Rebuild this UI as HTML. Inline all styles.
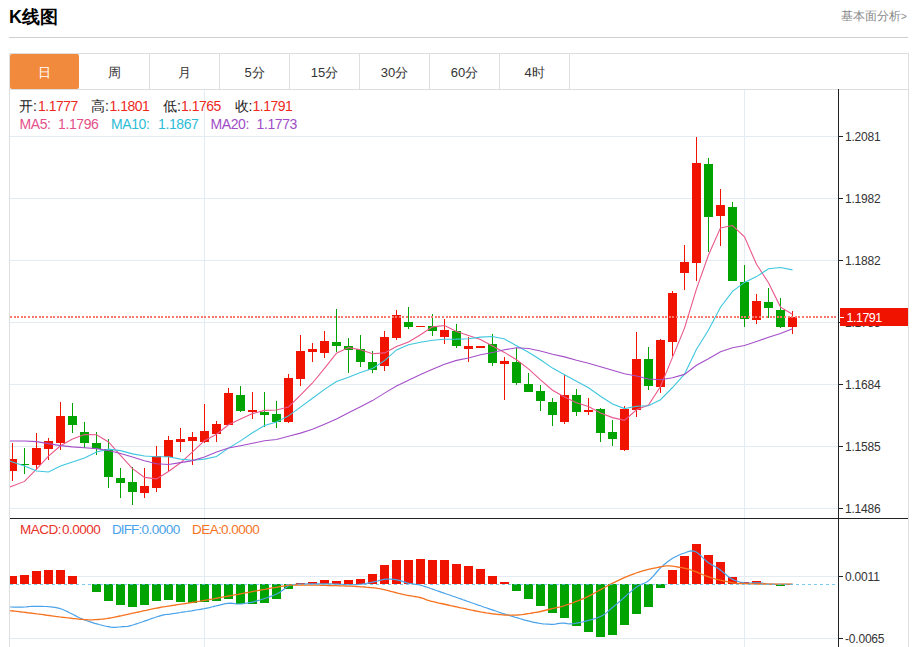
<!DOCTYPE html>
<html><head><meta charset="utf-8">
<style>
html,body{margin:0;padding:0;background:#fff;}
body{width:915px;height:647px;overflow:hidden;position:relative;font-family:"Liberation Sans",sans-serif;}
.a{position:absolute;white-space:nowrap;}
.tab{position:absolute;top:54px;height:35px;width:69px;line-height:37px;text-align:center;font-size:13px;color:#333;}
.lg{font-size:14px;}
.v{color:#ee2a1e;letter-spacing:-0.5px;}
.w{letter-spacing:-0.4px;}
.lg2{font-size:13.5px;letter-spacing:-0.5px;}
.ax{font-size:12px;letter-spacing:-0.2px;fill:#333;font-family:"Liberation Sans",sans-serif;}
</style></head><body>
<div class="a" style="left:9px;top:5px;font-size:18px;font-weight:bold;color:#000;">K线图</div>
<div class="a" style="left:841px;top:8px;font-size:12px;color:#8a8a8a;">基本面分析<span style="font-size:10px;">&gt;</span></div>
<svg class="a" style="left:0;top:0" width="915" height="647" shape-rendering="crispEdges">
<rect x="9" y="37" width="899" height="1" fill="#cfcfcf"/>
<!-- tab box -->
<rect x="10" y="53" width="898" height="1" fill="#dedede"/>
<rect x="10" y="89" width="898" height="1" fill="#dedede"/>
<rect x="908" y="53" width="1" height="594" fill="#dedede"/>
<rect x="9" y="53" width="1" height="594" fill="#dedede"/>
<rect x="149" y="54" width="1" height="35" fill="#dedede"/>
<rect x="219" y="54" width="1" height="35" fill="#dedede"/>
<rect x="289" y="54" width="1" height="35" fill="#dedede"/>
<rect x="359" y="54" width="1" height="35" fill="#dedede"/>
<rect x="429" y="54" width="1" height="35" fill="#dedede"/>
<rect x="499" y="54" width="1" height="35" fill="#dedede"/>
<rect x="569" y="54" width="1" height="35" fill="#dedede"/>
<rect x="10" y="54" width="69" height="35" rx="2" fill="#f28a3e" shape-rendering="auto"/>
<!-- grid -->
<g fill="#e3ebf3">
<rect x="204" y="90" width="1" height="557"/>
<rect x="744" y="90" width="1" height="557"/>
<rect x="10" y="136" width="828" height="1"/>
<rect x="10" y="198" width="828" height="1"/>
<rect x="10" y="260" width="828" height="1"/>
<rect x="10" y="322" width="828" height="1"/>
<rect x="10" y="384" width="828" height="1"/>
<rect x="10" y="446" width="828" height="1"/>
<rect x="10" y="508" width="828" height="1"/>
<rect x="10" y="576" width="828" height="1"/>
<rect x="10" y="638" width="828" height="1"/>
</g>
<!-- axis -->
<rect x="838" y="89" width="1" height="558" fill="#222"/>
<rect x="10" y="518" width="898" height="1" fill="#222"/>
<g fill="#222">
<rect x="838" y="136" width="5" height="1"/>
<rect x="838" y="198" width="5" height="1"/>
<rect x="838" y="260" width="5" height="1"/>
<rect x="838" y="322" width="5" height="1"/>
<rect x="838" y="384" width="5" height="1"/>
<rect x="838" y="446" width="5" height="1"/>
<rect x="838" y="508" width="5" height="1"/>
<rect x="838" y="576" width="5" height="1"/>
<rect x="838" y="638" width="5" height="1"/>
</g>
<g class="ax" shape-rendering="auto">
<text x="845" y="141">1.2081</text>
<text x="845" y="203">1.1982</text>
<text x="845" y="265">1.1882</text>
<text x="845" y="327">1.1783</text>
<text x="845" y="389">1.1684</text>
<text x="845" y="451">1.1585</text>
<text x="845" y="513">1.1486</text>
<text x="845" y="581">0.0011</text>
<text x="845" y="643">-0.0065</text>
</g>
<svg x="10" y="90" width="828" height="428" viewBox="10 90 828 428">
<rect x="12" y="443" width="1" height="38" fill="#f01400"/>
<rect x="8" y="459" width="9" height="12" fill="#f01400"/>
<rect x="24" y="448" width="1" height="26" fill="#00a300"/>
<rect x="20" y="464" width="9" height="1" fill="#00a300"/>
<rect x="36" y="433" width="1" height="37" fill="#f01400"/>
<rect x="32" y="448" width="9" height="17" fill="#f01400"/>
<rect x="48" y="438" width="1" height="22" fill="#f01400"/>
<rect x="44" y="441" width="9" height="8" fill="#f01400"/>
<rect x="60" y="402" width="1" height="48" fill="#f01400"/>
<rect x="56" y="416" width="9" height="27" fill="#f01400"/>
<rect x="72" y="403" width="1" height="30" fill="#00a300"/>
<rect x="68" y="416" width="9" height="9" fill="#00a300"/>
<rect x="84" y="422" width="1" height="26" fill="#00a300"/>
<rect x="80" y="432" width="9" height="11" fill="#00a300"/>
<rect x="96" y="432" width="1" height="23" fill="#00a300"/>
<rect x="92" y="443" width="9" height="6" fill="#00a300"/>
<rect x="108" y="439" width="1" height="49" fill="#00a300"/>
<rect x="104" y="449" width="9" height="28" fill="#00a300"/>
<rect x="120" y="468" width="1" height="30" fill="#00a300"/>
<rect x="116" y="478" width="9" height="5" fill="#00a300"/>
<rect x="132" y="467" width="1" height="38" fill="#00a300"/>
<rect x="128" y="482" width="9" height="10" fill="#00a300"/>
<rect x="144" y="468" width="1" height="30" fill="#f01400"/>
<rect x="140" y="486" width="9" height="7" fill="#f01400"/>
<rect x="156" y="446" width="1" height="46" fill="#f01400"/>
<rect x="152" y="456" width="9" height="32" fill="#f01400"/>
<rect x="168" y="436" width="1" height="35" fill="#f01400"/>
<rect x="164" y="440" width="9" height="17" fill="#f01400"/>
<rect x="180" y="428" width="1" height="24" fill="#f01400"/>
<rect x="176" y="439" width="9" height="3" fill="#f01400"/>
<rect x="192" y="432" width="1" height="33" fill="#f01400"/>
<rect x="188" y="437" width="9" height="4" fill="#f01400"/>
<rect x="204" y="404" width="1" height="39" fill="#f01400"/>
<rect x="200" y="431" width="9" height="11" fill="#f01400"/>
<rect x="216" y="421" width="1" height="21" fill="#f01400"/>
<rect x="212" y="424" width="9" height="10" fill="#f01400"/>
<rect x="228" y="388" width="1" height="37" fill="#f01400"/>
<rect x="224" y="393" width="9" height="32" fill="#f01400"/>
<rect x="240" y="386" width="1" height="26" fill="#00a300"/>
<rect x="236" y="395" width="9" height="16" fill="#00a300"/>
<rect x="252" y="392" width="1" height="27" fill="#f01400"/>
<rect x="248" y="410" width="9" height="2" fill="#f01400"/>
<rect x="264" y="392" width="1" height="35" fill="#00a300"/>
<rect x="260" y="412" width="9" height="3" fill="#00a300"/>
<rect x="276" y="401" width="1" height="27" fill="#00a300"/>
<rect x="272" y="414" width="9" height="8" fill="#00a300"/>
<rect x="288" y="374" width="1" height="49" fill="#f01400"/>
<rect x="284" y="378" width="9" height="44" fill="#f01400"/>
<rect x="300" y="335" width="1" height="51" fill="#f01400"/>
<rect x="296" y="351" width="9" height="28" fill="#f01400"/>
<rect x="312" y="343" width="1" height="19" fill="#f01400"/>
<rect x="308" y="349" width="9" height="3" fill="#f01400"/>
<rect x="324" y="331" width="1" height="27" fill="#f01400"/>
<rect x="320" y="341" width="9" height="12" fill="#f01400"/>
<rect x="336" y="309" width="1" height="43" fill="#00a300"/>
<rect x="332" y="342" width="9" height="4" fill="#00a300"/>
<rect x="348" y="338" width="1" height="35" fill="#00a300"/>
<rect x="344" y="346" width="9" height="4" fill="#00a300"/>
<rect x="360" y="335" width="1" height="32" fill="#00a300"/>
<rect x="356" y="349" width="9" height="13" fill="#00a300"/>
<rect x="372" y="351" width="1" height="22" fill="#00a300"/>
<rect x="368" y="362" width="9" height="8" fill="#00a300"/>
<rect x="384" y="331" width="1" height="40" fill="#f01400"/>
<rect x="380" y="337" width="9" height="29" fill="#f01400"/>
<rect x="396" y="310" width="1" height="30" fill="#f01400"/>
<rect x="392" y="315" width="9" height="23" fill="#f01400"/>
<rect x="408" y="307" width="1" height="22" fill="#00a300"/>
<rect x="404" y="322" width="9" height="5" fill="#00a300"/>
<rect x="420" y="326" width="1" height="1" fill="#f01400"/>
<rect x="416" y="326" width="9" height="1" fill="#f01400"/>
<rect x="432" y="314" width="1" height="22" fill="#00a300"/>
<rect x="428" y="326" width="9" height="5" fill="#00a300"/>
<rect x="444" y="319" width="1" height="25" fill="#f01400"/>
<rect x="440" y="330" width="9" height="7" fill="#f01400"/>
<rect x="456" y="324" width="1" height="24" fill="#00a300"/>
<rect x="452" y="331" width="9" height="15" fill="#00a300"/>
<rect x="468" y="337" width="1" height="25" fill="#f01400"/>
<rect x="464" y="346" width="9" height="3" fill="#f01400"/>
<rect x="480" y="346" width="1" height="2" fill="#f01400"/>
<rect x="476" y="346" width="9" height="2" fill="#f01400"/>
<rect x="492" y="334" width="1" height="32" fill="#00a300"/>
<rect x="488" y="344" width="9" height="19" fill="#00a300"/>
<rect x="504" y="357" width="1" height="43" fill="#f01400"/>
<rect x="500" y="361" width="9" height="3" fill="#f01400"/>
<rect x="516" y="348" width="1" height="37" fill="#00a300"/>
<rect x="512" y="362" width="9" height="21" fill="#00a300"/>
<rect x="528" y="373" width="1" height="19" fill="#00a300"/>
<rect x="524" y="384" width="9" height="8" fill="#00a300"/>
<rect x="540" y="385" width="1" height="26" fill="#00a300"/>
<rect x="536" y="391" width="9" height="10" fill="#00a300"/>
<rect x="552" y="398" width="1" height="28" fill="#00a300"/>
<rect x="548" y="402" width="9" height="13" fill="#00a300"/>
<rect x="564" y="375" width="1" height="49" fill="#f01400"/>
<rect x="560" y="395" width="9" height="27" fill="#f01400"/>
<rect x="576" y="389" width="1" height="27" fill="#00a300"/>
<rect x="572" y="395" width="9" height="17" fill="#00a300"/>
<rect x="588" y="398" width="1" height="17" fill="#f01400"/>
<rect x="584" y="410" width="9" height="2" fill="#f01400"/>
<rect x="600" y="408" width="1" height="34" fill="#00a300"/>
<rect x="596" y="409" width="9" height="24" fill="#00a300"/>
<rect x="612" y="420" width="1" height="26" fill="#00a300"/>
<rect x="608" y="432" width="9" height="7" fill="#00a300"/>
<rect x="624" y="406" width="1" height="45" fill="#f01400"/>
<rect x="620" y="409" width="9" height="41" fill="#f01400"/>
<rect x="636" y="332" width="1" height="85" fill="#f01400"/>
<rect x="632" y="359" width="9" height="51" fill="#f01400"/>
<rect x="648" y="347" width="1" height="43" fill="#00a300"/>
<rect x="644" y="359" width="9" height="27" fill="#00a300"/>
<rect x="660" y="339" width="1" height="54" fill="#f01400"/>
<rect x="656" y="340" width="9" height="47" fill="#f01400"/>
<rect x="672" y="291" width="1" height="65" fill="#f01400"/>
<rect x="668" y="293" width="9" height="49" fill="#f01400"/>
<rect x="684" y="245" width="1" height="45" fill="#f01400"/>
<rect x="680" y="262" width="9" height="11" fill="#f01400"/>
<rect x="696" y="137" width="1" height="144" fill="#f01400"/>
<rect x="692" y="163" width="9" height="100" fill="#f01400"/>
<rect x="708" y="158" width="1" height="94" fill="#00a300"/>
<rect x="704" y="164" width="9" height="53" fill="#00a300"/>
<rect x="720" y="189" width="1" height="57" fill="#f01400"/>
<rect x="716" y="205" width="9" height="11" fill="#f01400"/>
<rect x="732" y="202" width="1" height="79" fill="#00a300"/>
<rect x="728" y="207" width="9" height="74" fill="#00a300"/>
<rect x="744" y="265" width="1" height="62" fill="#00a300"/>
<rect x="740" y="282" width="9" height="37" fill="#00a300"/>
<rect x="756" y="294" width="1" height="30" fill="#f01400"/>
<rect x="752" y="301" width="9" height="19" fill="#f01400"/>
<rect x="768" y="288" width="1" height="30" fill="#00a300"/>
<rect x="764" y="302" width="9" height="6" fill="#00a300"/>
<rect x="780" y="298" width="1" height="30" fill="#00a300"/>
<rect x="776" y="310" width="9" height="17" fill="#00a300"/>
<rect x="792" y="311" width="1" height="23" fill="#f01400"/>
<rect x="788" y="317" width="9" height="10" fill="#f01400"/>
<g shape-rendering="auto">
<polyline points="0.5,490.6 12.5,486.0 24.5,481.4 36.5,469.2 48.5,456.1 60.5,445.8 72.5,439.0 84.5,434.6 96.5,434.8 108.5,442.0 120.5,455.4 132.5,468.7 144.5,477.4 156.5,478.9 168.5,471.5 180.5,462.8 192.5,451.8 204.5,440.7 216.5,434.2 228.5,424.8 240.5,419.0 252.5,413.6 264.5,410.4 276.5,410.0 288.5,407.0 300.5,395.2 312.5,383.0 324.5,368.3 336.5,353.2 348.5,347.6 360.5,349.7 372.5,353.8 384.5,352.9 396.5,346.6 408.5,341.9 420.5,334.7 432.5,326.9 444.5,325.5 456.5,331.6 468.5,335.5 480.5,339.6 492.5,346.1 504.5,352.4 516.5,359.8 528.5,368.8 540.5,379.8 552.5,390.2 564.5,397.0 576.5,402.8 588.5,406.5 600.5,412.9 612.5,417.6 624.5,420.3 636.5,409.8 648.5,405.0 660.5,386.5 672.5,357.4 684.5,328.1 696.5,288.8 708.5,255.0 720.5,227.9 732.5,225.5 744.5,236.8 756.5,264.3 768.5,282.7 780.5,307.1 792.5,314.3" fill="none" stroke="#e9578c" stroke-width="1.1"/>
<polyline points="0.5,458.0 12.5,462.0 24.5,466.0 36.5,471.0 48.5,472.0 60.5,466.0 72.5,462.0 84.5,458.0 96.5,452.0 108.5,449.1 120.5,450.6 132.5,453.9 144.5,456.0 156.5,456.8 168.5,456.7 180.5,459.1 192.5,460.2 204.5,459.1 216.5,456.5 228.5,448.1 240.5,440.9 252.5,432.7 264.5,425.5 276.5,422.1 288.5,415.9 300.5,407.1 312.5,398.3 324.5,389.4 336.5,381.6 348.5,377.3 360.5,372.5 372.5,368.4 384.5,360.6 396.5,349.9 408.5,344.8 420.5,342.2 432.5,340.3 444.5,339.2 456.5,339.1 468.5,338.7 480.5,337.1 492.5,336.5 504.5,338.9 516.5,345.7 528.5,352.2 540.5,359.7 552.5,368.1 564.5,374.7 576.5,381.3 588.5,387.7 600.5,396.3 612.5,403.9 624.5,408.6 636.5,406.3 648.5,405.8 660.5,399.7 672.5,387.5 684.5,374.2 696.5,349.3 708.5,330.0 720.5,307.2 732.5,291.4 744.5,282.4 756.5,276.6 768.5,268.8 780.5,267.5 792.5,269.9" fill="none" stroke="#3ec6df" stroke-width="1.1"/>
<polyline points="0.5,441.0 12.5,441.0 24.5,441.0 36.5,441.6 48.5,443.6 60.5,445.6 72.5,446.9 84.5,447.8 96.5,448.6 108.5,450.5 120.5,453.5 132.5,457.0 144.5,460.8 156.5,463.8 168.5,464.5 180.5,462.6 192.5,460.6 204.5,457.0 216.5,452.0 228.5,448.0 240.5,445.7 252.5,443.3 264.5,440.8 276.5,439.5 288.5,436.3 300.5,433.1 312.5,429.3 324.5,424.2 336.5,419.1 348.5,412.7 360.5,406.7 372.5,400.6 384.5,393.1 396.5,386.0 408.5,380.3 420.5,374.6 432.5,369.3 444.5,364.3 456.5,360.4 468.5,358.0 480.5,354.8 492.5,352.5 504.5,349.8 516.5,347.8 528.5,348.5 540.5,351.0 552.5,354.2 564.5,356.9 576.5,360.2 588.5,363.2 600.5,366.7 612.5,370.2 624.5,373.8 636.5,376.0 648.5,379.0 660.5,379.7 672.5,377.8 684.5,374.4 696.5,365.3 708.5,358.8 720.5,351.8 732.5,347.7 744.5,345.5 756.5,341.5 768.5,337.3 780.5,333.6 792.5,328.7" fill="none" stroke="#a44fc9" stroke-width="1.1"/>
</g>
</svg>
<line x1="10" y1="317" x2="837" y2="317" stroke="#f9776b" stroke-width="2" stroke-dasharray="2,1.6"/>
<rect x="840" y="308" width="68" height="18" fill="#f01400"/>
<rect x="840" y="317" width="4" height="1" fill="#fff"/>
<text x="846.5" y="321.5" class="ax" style="fill:#fff;font-size:12.5px;letter-spacing:-0.5px" shape-rendering="auto">1.1791</text>
<svg x="10" y="519" width="828" height="128" viewBox="10 519 828 128">
<rect x="8" y="576" width="9" height="8" fill="#f01400"/>
<rect x="20" y="575" width="9" height="9" fill="#f01400"/>
<rect x="32" y="571" width="9" height="13" fill="#f01400"/>
<rect x="44" y="570" width="9" height="14" fill="#f01400"/>
<rect x="56" y="570" width="9" height="14" fill="#f01400"/>
<rect x="68" y="576" width="9" height="8" fill="#f01400"/>
<rect x="92" y="584" width="9" height="8" fill="#00a300"/>
<rect x="104" y="584" width="9" height="17" fill="#00a300"/>
<rect x="116" y="584" width="9" height="21" fill="#00a300"/>
<rect x="128" y="584" width="9" height="23" fill="#00a300"/>
<rect x="140" y="584" width="9" height="21" fill="#00a300"/>
<rect x="152" y="584" width="9" height="17" fill="#00a300"/>
<rect x="164" y="584" width="9" height="16" fill="#00a300"/>
<rect x="176" y="584" width="9" height="18" fill="#00a300"/>
<rect x="188" y="584" width="9" height="19" fill="#00a300"/>
<rect x="200" y="584" width="9" height="18" fill="#00a300"/>
<rect x="212" y="584" width="9" height="17" fill="#00a300"/>
<rect x="224" y="584" width="9" height="15" fill="#00a300"/>
<rect x="236" y="584" width="9" height="20" fill="#00a300"/>
<rect x="248" y="584" width="9" height="20" fill="#00a300"/>
<rect x="260" y="584" width="9" height="19" fill="#00a300"/>
<rect x="272" y="584" width="9" height="15" fill="#00a300"/>
<rect x="284" y="584" width="9" height="5" fill="#00a300"/>
<rect x="296" y="583" width="9" height="1" fill="#f01400"/>
<rect x="308" y="582" width="9" height="2" fill="#f01400"/>
<rect x="320" y="580" width="9" height="4" fill="#f01400"/>
<rect x="332" y="581" width="9" height="3" fill="#f01400"/>
<rect x="344" y="580" width="9" height="4" fill="#f01400"/>
<rect x="356" y="579" width="9" height="5" fill="#f01400"/>
<rect x="368" y="574" width="9" height="10" fill="#f01400"/>
<rect x="380" y="565" width="9" height="19" fill="#f01400"/>
<rect x="392" y="560" width="9" height="24" fill="#f01400"/>
<rect x="404" y="560" width="9" height="24" fill="#f01400"/>
<rect x="416" y="559" width="9" height="25" fill="#f01400"/>
<rect x="428" y="560" width="9" height="24" fill="#f01400"/>
<rect x="440" y="560" width="9" height="24" fill="#f01400"/>
<rect x="452" y="564" width="9" height="20" fill="#f01400"/>
<rect x="464" y="566" width="9" height="18" fill="#f01400"/>
<rect x="476" y="569" width="9" height="15" fill="#f01400"/>
<rect x="488" y="576" width="9" height="8" fill="#f01400"/>
<rect x="500" y="582" width="9" height="2" fill="#f01400"/>
<rect x="512" y="584" width="9" height="7" fill="#00a300"/>
<rect x="524" y="584" width="9" height="15" fill="#00a300"/>
<rect x="536" y="584" width="9" height="22" fill="#00a300"/>
<rect x="548" y="584" width="9" height="29" fill="#00a300"/>
<rect x="560" y="584" width="9" height="34" fill="#00a300"/>
<rect x="572" y="584" width="9" height="42" fill="#00a300"/>
<rect x="584" y="584" width="9" height="48" fill="#00a300"/>
<rect x="596" y="584" width="9" height="53" fill="#00a300"/>
<rect x="608" y="584" width="9" height="51" fill="#00a300"/>
<rect x="620" y="584" width="9" height="41" fill="#00a300"/>
<rect x="632" y="584" width="9" height="30" fill="#00a300"/>
<rect x="644" y="584" width="9" height="23" fill="#00a300"/>
<rect x="656" y="584" width="9" height="4" fill="#00a300"/>
<rect x="668" y="570" width="9" height="14" fill="#f01400"/>
<rect x="680" y="556" width="9" height="28" fill="#f01400"/>
<rect x="692" y="544" width="9" height="40" fill="#f01400"/>
<rect x="704" y="555" width="9" height="29" fill="#f01400"/>
<rect x="716" y="562" width="9" height="22" fill="#f01400"/>
<rect x="728" y="577" width="9" height="7" fill="#f01400"/>
<rect x="740" y="582" width="9" height="2" fill="#f01400"/>
<rect x="752" y="581" width="9" height="3" fill="#f01400"/>
<rect x="776" y="584" width="9" height="2" fill="#00a300"/>
<g shape-rendering="auto">
<polyline points="0.0,607.0 1.6,607.0 4.0,607.0 6.7,607.0 9.6,607.0 11.6,607.0 13.7,607.1 15.9,607.1 18.1,607.1 20.4,607.1 22.7,607.1 24.6,607.0 26.4,606.9 28.2,606.7 30.0,606.5 32.0,606.3 34.2,606.3 36.7,606.3 38.4,606.3 40.3,606.4 42.2,606.4 44.2,606.5 46.3,606.5 48.5,606.7 50.6,606.8 52.8,607.1 55.0,607.4 57.2,607.9 59.4,608.4 61.4,609.0 63.4,609.8 65.4,610.7 67.5,611.6 69.5,612.7 71.6,613.7 73.7,614.8 75.7,615.9 77.8,617.0 79.9,618.0 82.0,618.9 84.0,619.7 86.1,620.5 88.2,621.2 90.4,621.9 92.5,622.6 94.7,623.3 96.9,623.9 99.0,624.5 101.0,625.0 103.0,625.5 104.9,626.0 106.7,626.4 108.4,626.7 111.0,627.1 113.3,627.3 115.3,627.3 117.2,627.2 119.0,627.0 120.7,626.9 122.4,626.7 124.5,626.6 126.1,626.5 127.7,626.3 129.8,625.8 132.9,625.0 134.5,624.5 136.3,623.9 138.3,623.3 140.5,622.5 142.8,621.7 145.1,620.9 147.5,620.1 149.8,619.2 152.2,618.4 154.4,617.7 156.4,617.0 158.3,616.4 160.0,615.9 162.8,615.2 164.7,614.7 166.2,614.5 167.8,614.3 169.9,614.1 173.0,613.6 174.6,613.3 176.3,613.1 178.3,612.8 180.3,612.5 182.4,612.1 184.7,611.8 187.0,611.5 189.3,611.1 191.6,610.8 193.9,610.4 196.2,610.0 198.4,609.7 200.6,609.3 202.6,608.9 204.5,608.6 207.0,608.1 209.4,607.6 211.7,607.0 214.0,606.4 216.2,605.9 218.4,605.3 220.4,604.8 222.4,604.3 224.2,603.9 226.0,603.6 227.6,603.3 230.6,603.1 232.8,603.3 234.8,603.7 236.7,604.0 239.2,604.0 241.0,603.8 242.9,603.7 244.8,603.4 246.9,603.1 249.0,602.7 251.2,602.3 253.5,601.8 255.8,601.2 257.8,600.6 260.0,600.0 262.2,599.3 264.6,598.5 266.9,597.8 269.2,596.9 271.5,596.1 273.6,595.3 275.6,594.5 277.3,593.7 280.2,592.1 282.6,590.3 284.6,588.7 286.4,587.2 288.3,586.0 290.1,585.1 291.3,584.7 293.1,584.5 296.5,584.3 297.9,584.2 299.5,584.2 301.2,584.1 303.0,584.0 305.0,584.0 307.1,583.9 309.2,583.9 311.4,583.9 313.6,583.8 315.9,583.8 318.1,583.8 320.3,583.8 322.5,583.8 324.6,583.8 326.7,583.8 328.9,583.9 331.1,583.9 333.3,584.0 335.6,584.1 337.9,584.2 340.1,584.3 342.4,584.4 344.5,584.5 346.7,584.6 348.8,584.6 350.7,584.6 352.6,584.6 354.4,584.6 357.0,584.5 359.4,584.3 361.6,584.1 363.6,583.8 365.6,583.5 367.5,583.1 369.2,582.8 370.9,582.5 372.6,582.2 375.3,581.6 377.7,581.0 379.9,580.3 382.0,579.8 384.2,579.4 386.5,579.2 388.8,579.1 391.0,579.2 393.4,579.4 395.8,579.7 397.9,580.1 400.2,580.7 402.4,581.4 404.7,582.1 406.9,582.8 409.0,583.3 411.4,583.7 413.6,584.0 415.8,584.3 417.9,584.6 420.0,585.0 421.9,585.5 423.4,586.0 425.1,586.6 427.2,587.3 430.0,588.3 431.6,588.8 433.3,589.4 435.1,590.0 437.0,590.7 439.0,591.4 441.1,592.1 443.3,592.9 445.6,593.7 448.0,594.5 450.5,595.3 453.0,596.2 454.8,596.8 456.7,597.5 458.7,598.2 460.8,598.9 462.9,599.7 465.0,600.4 467.2,601.2 469.4,602.0 471.6,602.8 473.8,603.5 476.0,604.3 478.2,605.1 480.3,605.8 482.3,606.5 484.2,607.2 486.1,607.8 488.5,608.6 490.7,609.4 492.9,610.1 495.0,610.8 497.1,611.5 499.1,612.2 501.0,612.9 503.0,613.5 505.0,614.1 507.0,614.8 509.0,615.4 511.0,616.0 513.1,616.6 515.2,617.3 517.4,617.9 519.6,618.5 521.8,619.2 523.9,619.8 526.1,620.3 528.2,620.9 530.2,621.4 532.1,621.9 534.0,622.3 535.8,622.7 538.3,623.2 540.7,623.5 542.9,623.8 545.0,624.0 547.0,624.1 548.8,624.2 550.6,624.3 552.3,624.3 555.2,624.1 557.5,623.7 559.7,623.3 562.2,623.0 564.0,623.1 565.6,623.3 567.4,623.6 569.3,623.8 571.7,623.8 574.5,623.5 576.2,623.2 578.1,622.8 580.2,622.4 582.4,622.0 584.7,621.4 587.0,620.9 589.4,620.2 591.7,619.6 593.9,618.9 596.1,618.2 598.0,617.5 599.8,616.8 602.4,615.5 604.5,614.2 606.4,612.9 608.1,611.4 609.9,609.8 611.9,608.0 614.3,606.0 616.2,604.4 618.3,602.6 620.6,600.7 622.9,598.6 625.3,596.5 627.6,594.4 629.9,592.4 632.1,590.6 634.2,588.9 636.0,587.5 638.6,585.8 640.9,584.6 642.9,583.7 644.8,583.0 646.7,582.0 648.7,580.6 650.8,578.7 653.0,576.4 655.1,574.0 657.2,571.5 659.3,569.1 661.3,567.1 663.6,565.0 665.8,563.2 667.9,561.5 670.1,560.0 672.2,558.6 674.4,557.3 676.5,556.2 678.6,555.2 680.8,554.3 683.0,553.5 685.3,552.7 687.6,551.8 689.9,551.1 692.3,550.8 694.8,551.3 697.0,552.4 699.2,554.2 701.5,556.4 703.8,558.6 706.0,560.8 708.1,562.5 710.4,564.0 712.6,565.2 714.6,566.3 716.7,567.5 719.0,568.9 721.0,570.4 723.1,572.2 725.2,574.0 727.3,575.8 729.5,577.5 731.6,578.8 733.7,579.9 735.8,580.7 737.8,581.4 739.9,582.0 742.1,582.4 744.3,582.8 746.3,583.0 748.4,583.1 750.5,583.0 752.6,582.9 754.7,582.8 756.8,582.8 758.8,582.8 760.8,583.0 762.5,583.2 764.2,583.5 766.1,583.8 768.4,584.0 771.4,584.2 773.0,584.2 774.9,584.3 777.0,584.3 779.2,584.3 781.6,584.3 784.0,584.3 786.5,584.3 788.9,584.3 791.2,584.3 792.5,584.2" fill="none" stroke="#4aa3ea" stroke-width="1.2"/>
<polyline points="0.0,609.5 1.4,609.7 3.2,609.9 5.9,610.2 9.6,610.6 11.2,610.8 12.9,611.0 14.8,611.2 16.9,611.4 19.0,611.7 21.3,612.0 23.6,612.2 25.9,612.5 28.2,612.8 30.5,613.0 32.8,613.3 35.0,613.6 37.0,613.9 39.0,614.1 41.1,614.4 43.2,614.7 45.3,615.0 47.3,615.3 49.4,615.5 51.5,615.8 53.5,616.1 55.5,616.4 57.4,616.6 59.4,616.9 61.2,617.1 63.6,617.4 65.9,617.7 68.2,617.9 70.4,618.2 72.6,618.5 74.7,618.7 76.7,618.9 78.6,619.1 80.5,619.3 82.2,619.4 84.7,619.6 86.9,619.7 88.7,619.8 90.5,619.8 92.4,619.8 94.4,619.7 96.2,619.6 98.0,619.5 99.8,619.4 101.7,619.2 103.7,619.0 105.9,618.7 108.4,618.3 110.1,618.0 111.9,617.7 113.8,617.3 115.7,616.9 117.7,616.5 119.8,616.0 121.9,615.6 124.1,615.1 126.4,614.6 128.7,614.1 131.0,613.6 132.8,613.2 134.7,612.8 136.5,612.4 138.4,612.0 140.2,611.6 142.2,611.1 144.1,610.7 146.2,610.3 148.2,609.8 150.4,609.4 152.6,608.9 155.0,608.4 157.4,608.0 160.0,607.5 161.7,607.2 163.3,606.9 165.0,606.6 166.7,606.4 168.4,606.1 170.2,605.8 171.9,605.5 173.7,605.3 175.6,605.0 177.4,604.7 179.3,604.4 181.3,604.1 183.3,603.8 185.4,603.5 187.5,603.2 189.7,602.8 192.0,602.5 194.3,602.1 196.7,601.7 199.2,601.3 201.8,600.9 204.5,600.4 206.2,600.1 207.9,599.8 209.7,599.5 211.6,599.1 213.6,598.8 215.6,598.4 217.7,598.0 219.8,597.6 222.0,597.2 224.2,596.8 226.5,596.4 228.8,596.0 231.1,595.6 233.4,595.1 235.8,594.7 238.1,594.3 240.5,593.8 242.8,593.4 245.2,592.9 247.5,592.5 249.8,592.1 252.1,591.6 254.4,591.2 256.6,590.8 258.8,590.4 260.9,590.0 263.0,589.6 265.1,589.3 267.0,588.9 268.9,588.5 270.8,588.2 272.5,587.9 274.2,587.6 275.8,587.3 277.3,587.1 278.7,586.8 280.0,586.6 284.7,585.8 287.5,585.3 289.1,585.0 289.9,584.9 290.5,584.9 291.4,584.9 293.3,585.0 296.5,585.0 298.0,585.0 299.5,585.0 301.3,585.0 303.1,585.0 305.1,585.0 307.1,585.1 309.3,585.1 311.5,585.1 313.7,585.2 316.0,585.2 318.4,585.2 320.7,585.3 323.1,585.4 325.4,585.4 327.8,585.5 330.1,585.5 332.4,585.6 334.6,585.6 336.7,585.7 338.8,585.8 340.8,585.8 342.6,585.9 344.4,585.9 346.0,586.0 349.0,586.1 351.7,586.2 354.3,586.4 356.6,586.5 358.8,586.6 360.9,586.8 362.8,586.9 364.6,587.0 366.3,587.2 367.9,587.3 369.5,587.5 371.0,587.6 374.0,587.9 376.1,588.1 377.8,588.4 379.8,588.7 382.5,589.3 384.3,589.7 386.2,590.2 388.4,590.7 390.6,591.3 393.0,591.9 395.3,592.5 397.6,593.1 399.9,593.6 402.0,594.2 404.0,594.6 406.3,595.1 408.5,595.5 410.7,595.8 412.7,596.2 414.7,596.5 416.6,596.8 418.3,597.1 420.0,597.5 422.2,598.1 423.8,598.7 425.4,599.4 427.3,600.1 430.0,600.9 431.6,601.3 433.3,601.7 435.1,602.1 437.0,602.6 439.0,603.1 441.1,603.5 443.4,604.0 445.7,604.5 448.0,605.0 450.5,605.6 453.0,606.1 454.8,606.5 456.7,606.9 458.7,607.3 460.7,607.8 462.8,608.2 464.9,608.7 467.1,609.2 469.3,609.6 471.5,610.1 473.7,610.5 475.8,611.0 478.0,611.4 480.1,611.8 482.1,612.2 484.1,612.5 486.0,612.8 488.3,613.1 490.5,613.5 492.6,613.8 494.8,614.0 496.9,614.3 498.9,614.5 500.9,614.7 502.9,614.9 504.9,615.0 506.8,615.1 508.8,615.2 510.7,615.2 512.6,615.2 514.9,615.1 517.1,615.0 519.4,614.8 521.6,614.6 523.8,614.3 525.9,614.0 528.0,613.7 530.0,613.4 532.0,613.0 534.0,612.7 535.8,612.4 538.2,612.0 540.5,611.5 542.6,611.0 544.7,610.5 546.7,610.0 548.6,609.5 550.5,609.0 552.3,608.6 554.5,608.1 556.5,607.7 558.3,607.3 560.2,606.9 562.4,606.3 565.0,605.5 566.7,604.9 568.4,604.3 570.3,603.7 572.3,603.0 574.3,602.2 576.4,601.4 578.6,600.6 580.7,599.7 582.9,598.8 585.0,597.9 587.1,596.9 589.2,595.9 591.3,594.8 593.4,593.7 595.5,592.5 597.6,591.3 599.8,590.1 601.9,588.9 604.1,587.7 606.3,586.5 608.5,585.3 610.7,584.2 612.7,583.2 614.8,582.2 616.9,581.2 619.0,580.2 621.1,579.2 623.2,578.2 625.4,577.2 627.5,576.3 629.6,575.4 631.8,574.6 633.9,573.8 636.0,573.0 638.2,572.3 640.4,571.6 642.7,570.9 645.0,570.3 647.3,569.7 649.5,569.2 651.8,568.7 653.9,568.2 656.0,567.8 657.9,567.4 659.7,567.0 661.3,566.7 664.3,566.2 666.4,565.9 668.0,565.8 669.8,565.9 672.2,566.2 673.9,566.4 675.7,566.7 677.7,567.0 679.8,567.3 681.9,567.7 684.0,568.2 686.2,568.7 688.3,569.2 690.3,569.8 692.5,570.5 694.8,571.3 697.0,572.2 699.2,573.2 701.4,574.1 703.6,575.0 705.9,575.9 708.1,576.7 710.1,577.3 712.1,578.0 714.1,578.6 716.1,579.1 718.1,579.7 720.2,580.2 722.2,580.6 724.2,581.1 726.2,581.5 728.0,581.9 729.5,582.2 730.8,582.5 732.2,582.7 733.7,583.0 735.5,583.2 737.8,583.4 740.6,583.5 744.3,583.7 745.8,583.7 747.4,583.8 749.1,583.8 751.1,583.9 753.1,583.9 755.2,583.9 757.5,584.0 759.8,584.0 762.1,584.0 764.6,584.0 767.0,584.0 769.5,584.1 772.0,584.1 774.5,584.1 777.0,584.1 779.4,584.1 781.8,584.1 784.2,584.1 786.4,584.1 788.6,584.1 790.6,584.2 792.5,584.1" fill="none" stroke="#f5731f" stroke-width="1.3"/>
</g>
</svg>
<line x1="10" y1="584.5" x2="836" y2="584.5" stroke="#5bbde8" stroke-opacity="0.8" stroke-width="1" stroke-dasharray="3,3"/>
</svg>
<!-- tabs text -->
<div class="tab" style="left:10px;color:#fff;">日</div>
<div class="tab" style="left:80px;">周</div>
<div class="tab" style="left:150px;">月</div>
<div class="tab" style="left:220px;">5分</div>
<div class="tab" style="left:290px;">15分</div>
<div class="tab" style="left:360px;">30分</div>
<div class="tab" style="left:430px;">60分</div>
<div class="tab" style="left:500px;">4时</div>
<!-- legend -->
<div class="a lg" style="left:19px;top:98px;color:#222;">开:</div><div class="a lg v" style="left:38px;top:98px;">1.1777</div>
<div class="a lg" style="left:91px;top:98px;color:#222;">高:</div><div class="a lg v" style="left:109.5px;top:98px;">1.1801</div>
<div class="a lg" style="left:163px;top:98px;color:#222;">低:</div><div class="a lg v" style="left:181px;top:98px;">1.1765</div>
<div class="a lg" style="left:234.5px;top:98px;color:#222;">收:</div><div class="a lg v" style="left:252.5px;top:98px;">1.1791</div>
<div class="a lg w" style="left:19.5px;top:116px;color:#e5508a;">MA5:</div><div class="a lg w" style="left:58px;top:116px;color:#e5508a;">1.1796</div>
<div class="a lg w" style="left:111px;top:116px;color:#2dbdd7;">MA10:</div><div class="a lg w" style="left:158px;top:116px;color:#2dbdd7;">1.1867</div>
<div class="a lg w" style="left:210.5px;top:116px;color:#a04cc6;">MA20:</div><div class="a lg w" style="left:256.5px;top:116px;color:#a04cc6;">1.1773</div>
<div class="a lg2" style="left:20px;top:522px;color:#e8322a;">MACD:</div><div class="a lg2" style="left:62px;top:522px;color:#e8322a;">0.0000</div>
<div class="a lg2" style="left:112px;top:522px;color:#4aa3ea;letter-spacing:-0.9px;">DIFF:</div><div class="a lg2" style="left:141.5px;top:522px;color:#4aa3ea;">0.0000</div>
<div class="a lg2" style="left:192px;top:522px;color:#f5731f;">DEA:</div><div class="a lg2" style="left:221px;top:522px;color:#f5731f;">0.0000</div>
</body></html>
